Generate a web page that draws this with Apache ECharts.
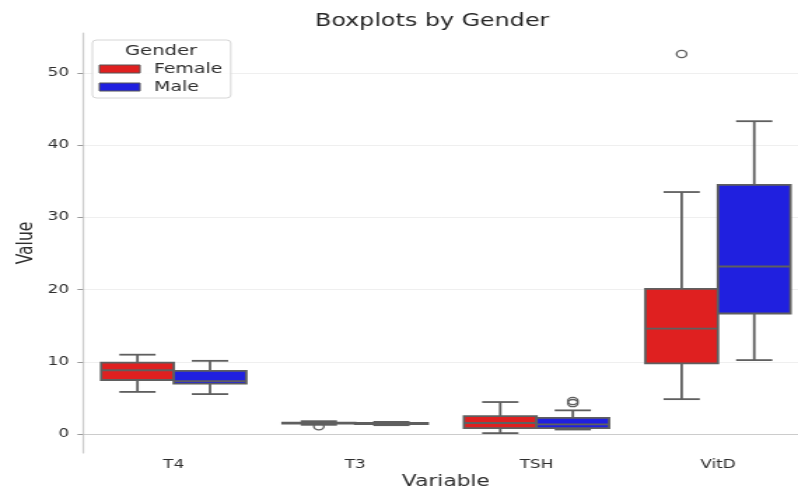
<!DOCTYPE html>
<html>
<head>
<meta charset="utf-8">
<script src="https://cdn.jsdelivr.net/npm/echarts@6/dist/echarts.min.js"></script>
<style>
html,body{margin:0;padding:0;background:#ffffff;overflow:hidden;}
#wrap{width:798px;height:488px;overflow:hidden;position:relative;}
#chart{width:570px;height:488px;transform:scaleX(1.4);transform-origin:0 0;}
</style>
</head>
<body>
<div id="wrap"><div id="chart"></div></div>
<script>
// ---- data ----
const categories = ['T4', 'T3', 'TSH', 'VitD'];
const genders = ['Female', 'Male'];

const femaleMin    = [5.85, 1.30, 0.15, 4.85];
const femaleQ1     = [7.50, 1.45, 0.85, 9.80];
const femaleMedian = [8.85, 1.55, 1.55, 14.6];
const femaleQ3     = [9.90, 1.60, 2.50, 20.1];
const femaleMax    = [11.0, 1.80, 4.45, 33.5];

const maleMin      = [5.55, 1.25, 0.65, 10.25];
const maleQ1       = [7.00, 1.40, 0.85, 16.7];
const maleMedian   = [7.35, 1.48, 1.35, 23.2];
const maleQ3       = [8.75, 1.55, 2.25, 34.5];
const maleMax      = [10.15, 1.70, 3.30, 43.3];

const femaleOutliers = [[1, 1.1], [3, 52.6]];
const maleOutliers   = [[2, 4.3], [2, 4.6]];

const yTicks = [0, 10, 20, 30, 40, 50];

// ---- styling ----
const FONT = 'DejaVu Sans';
const TEXT = '#2e2e2e';
const EDGE = '#5f5f5f';
const colors = {Female: '#df2020', Male: '#2020df'};

function rows(mn, q1, md, q3, mx) {
  return categories.map((c, i) => [i, mn[i], q1[i], md[i], q3[i], mx[i]]);
}

function boxRenderer(offset, color) {
  return function (params, api) {
    const ci = api.value(0);
    const band = api.size([1, 0])[0];
    const cx = api.coord([ci, 0])[0] + offset * band;
    const bw = band * 0.4;
    const cw = band * 0.2;
    const y = k => api.coord([ci, api.value(k)])[1];
    const yMin = y(1), yQ1 = y(2), yMd = y(3), yQ3 = y(4), yMax = y(5);
    const ls = {stroke: EDGE, lineWidth: 1.8};
    return {
      type: 'group',
      children: [
        {type: 'line', shape: {x1: cx, y1: yQ3, x2: cx, y2: yMax}, style: ls},
        {type: 'line', shape: {x1: cx, y1: yQ1, x2: cx, y2: yMin}, style: ls},
        {type: 'line', shape: {x1: cx - cw / 2, y1: yMax, x2: cx + cw / 2, y2: yMax}, style: ls},
        {type: 'line', shape: {x1: cx - cw / 2, y1: yMin, x2: cx + cw / 2, y2: yMin}, style: ls},
        {type: 'rect', shape: {x: cx - bw / 2, y: yQ3, width: bw, height: Math.max(yQ1 - yQ3, 0.5)},
         style: {fill: color, stroke: EDGE, lineWidth: 1.8}},
        {type: 'line', shape: {x1: cx - bw / 2, y1: yMd, x2: cx + bw / 2, y2: yMd}, style: ls}
      ]
    };
  };
}

function outlierRenderer(offset) {
  return function (params, api) {
    const ci = api.value(0);
    const band = api.size([1, 0])[0];
    const p = api.coord([ci, api.value(1)]);
    return {
      type: 'circle',
      shape: {cx: p[0] + offset * band, cy: p[1], r: 3.6},
      style: {fill: 'none', stroke: EDGE, lineWidth: 1.3}
    };
  };
}

const chart = echarts.init(document.getElementById('chart'), null, {renderer: 'canvas'});
chart.setOption({
  animation: false,
  backgroundColor: '#ffffff',
  textStyle: {fontFamily: FONT},
  title: {
    text: 'Boxplots by Gender',
    left: 225, top: 13, padding: 0,
    textStyle: {fontFamily: FONT, fontSize: 17, fontWeight: 'normal', color: '#262626'}
  },
  legend: {
    data: genders,
    orient: 'vertical',
    left: 66, top: 40,
    padding: [21, 6, 3, 4.5],
    itemWidth: 29, itemHeight: 8, itemGap: 2,
    icon: 'rect',
    backgroundColor: 'rgba(255,255,255,0.85)',
    borderColor: '#d6d6d6', borderWidth: 1, borderRadius: 3,
    itemStyle: {borderColor: '#555555', borderWidth: 1},
    textStyle: {fontFamily: FONT, fontSize: 13.5, color: TEXT, lineHeight: 16, padding: [0, 0, 0, 5]}
  },
  graphic: [{
    type: 'text', x: 115, y: 51, z: 100,
    style: {text: 'Gender', font: '14px "DejaVu Sans"', fill: TEXT, textAlign: 'center', textVerticalAlign: 'middle'}
  }],
  grid: {left: 59.3, right: -7.6, top: 33, bottom: 35, containLabel: false, outerBoundsMode: 'none'},
  xAxis: {
    type: 'category',
    data: categories,
    boundaryGap: true,
    name: 'Variable',
    nameLocation: 'middle',
    nameGap: 21,
    nameMoveOverlap: false,
    nameTextStyle: {fontFamily: FONT, fontSize: 15.5, color: TEXT},
    axisLine: {lineStyle: {color: '#cccccc', width: 1.2}},
    axisTick: {alignWithLabel: true, length: 3.5, lineStyle: {color: '#9a9a9a'}},
    axisLabel: {margin: 6, fontFamily: FONT, fontSize: 12, color: TEXT},
    splitLine: {show: false}
  },
  yAxis: {
    type: 'value',
    min: -2.6, max: 55.5,
    name: 'Value',
    nameLocation: 'middle',
    nameGap: 32,
    nameMoveOverlap: false,
    nameTextStyle: {fontFamily: FONT, fontSize: 15.5, color: TEXT},
    axisLine: {show: true, lineStyle: {color: '#cccccc', width: 1.2}},
    axisTick: {show: true, length: 4, customValues: yTicks, lineStyle: {color: '#9a9a9a'}},
    axisLabel: {margin: 10, fontFamily: FONT, fontSize: 12, color: TEXT, customValues: yTicks},
    splitLine: {show: true, lineStyle: {color: '#efefef', width: 1}}
  },
  series: [
    {name: 'Female', type: 'custom', itemStyle: {color: colors.Female},
     renderItem: boxRenderer(-0.2, colors.Female),
     encode: {x: 0, y: [1, 2, 3, 4, 5]},
     data: rows(femaleMin, femaleQ1, femaleMedian, femaleQ3, femaleMax)},
    {name: 'Male', type: 'custom', itemStyle: {color: colors.Male},
     renderItem: boxRenderer(0.2, colors.Male),
     encode: {x: 0, y: [1, 2, 3, 4, 5]},
     data: rows(maleMin, maleQ1, maleMedian, maleQ3, maleMax)},
    {name: 'Female outliers', type: 'custom', z: 3,
     renderItem: outlierRenderer(-0.2), encode: {x: 0, y: 1}, data: femaleOutliers},
    {name: 'Male outliers', type: 'custom', z: 3,
     renderItem: outlierRenderer(0.2), encode: {x: 0, y: 1}, data: maleOutliers}
  ]
});
</script>
</body>
</html>
